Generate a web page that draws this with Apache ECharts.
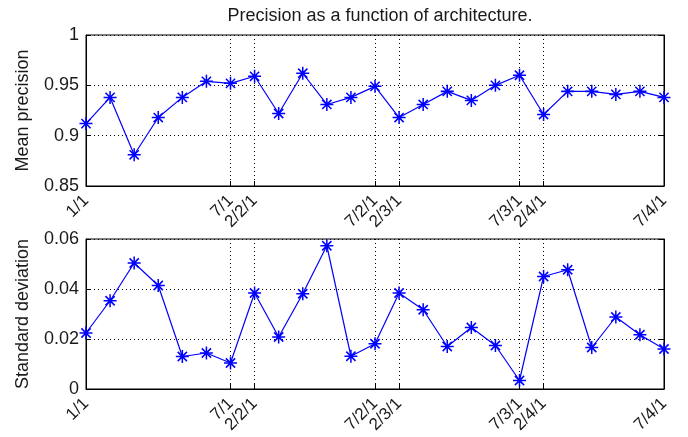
<!DOCTYPE html>
<html>
<head>
<meta charset="utf-8">
<script src="https://cdn.jsdelivr.net/npm/echarts@6/dist/echarts.min.js"></script>
<style>
html,body{margin:0;padding:0;background:#fff;}
#chart{width:688px;height:437px;}
</style>
</head>
<body>
<div id="chart"></div>
<script>
// Data
const archIndex = ['1','2','3','4','5','6','7','8','9','10','11','12','13','14','15','16','17','18','19','20','21','22','23','24','25'];
const meanPrecision = [0.912, 0.938, 0.881, 0.918, 0.938, 0.954, 0.952, 0.959, 0.922, 0.962, 0.931, 0.938, 0.949, 0.918, 0.931, 0.944, 0.935, 0.950, 0.960, 0.921, 0.944, 0.944, 0.941, 0.944, 0.938];
const stdDeviation = [0.0224, 0.0353, 0.0504, 0.0414, 0.0130, 0.0144, 0.0104, 0.0384, 0.0208, 0.0381, 0.0573, 0.0131, 0.0181, 0.0384, 0.0317, 0.0170, 0.0246, 0.0174, 0.0034, 0.0450, 0.0477, 0.0166, 0.0288, 0.0217, 0.0160];
const tickPositions = [0, 6, 7, 12, 13, 18, 19, 24];
const tickLabels = ['1/1', '7/1', '2/2/1', '7/2/1', '2/3/1', '7/3/1', '2/4/1', '7/4/1'];

const FONT = 'Liberation Sans, Arial, Helvetica, sans-serif';
const TXT = '#1a1a1a';
const isTick = (i) => tickPositions.indexOf(i) >= 0;
const asterisk = 'path://M10.6 0L13.4 0L13.4 24L10.6 24Z M0 10.6L24 10.6L24 13.4L0 13.4Z M4.5 2.5L21.5 19.5L19.5 21.5L2.5 4.5Z M19.5 2.5L21.5 4.5L4.5 21.5L2.5 19.5Z';

function xAxisFor(gridIndex) {
  return {
    type: 'category', gridIndex, data: archIndex, boundaryGap: false,
    axisLine: {show: true, lineStyle: {color: '#000', width: 1}},
    axisTick: {show: true, inside: true, length: 5, interval: (i) => isTick(i), lineStyle: {color: '#000'}},
    axisLabel: {
      show: true, interval: (i) => isTick(i), rotate: 45, margin: 12,
      formatter: (v, i) => tickLabels[tickPositions.indexOf(i)] || '',
      fontFamily: FONT, fontSize: 17, color: TXT, hideOverlap: false
    },
    splitLine: {show: true, interval: (i) => isTick(i), lineStyle: {color: '#000', type: [1, 3], width: 1}}
  };
}
function yAxisFor(gridIndex, min, max, interval, name) {
  return {
    type: 'value', gridIndex, min, max, interval, name,
    nameLocation: 'middle', nameGap: 54, nameRotate: 90,
    nameTextStyle: {fontFamily: FONT, fontSize: 18, color: TXT},
    axisLine: {show: true, lineStyle: {color: '#000'}},
    axisTick: {show: true, inside: true, length: 5, lineStyle: {color: '#000'}},
    axisLabel: {fontFamily: FONT, fontSize: 18, color: TXT, margin: 7},
    splitLine: {show: true, lineStyle: {color: '#000', type: [1, 3], width: 1}}
  };
}
function yRight(gridIndex, min, max, interval) {
  return {
    type: 'value', gridIndex, min, max, interval, position: 'right',
    axisLine: {show: true, lineStyle: {color: '#000'}},
    axisTick: {show: true, inside: true, length: 5, lineStyle: {color: '#000'}},
    axisLabel: {show: false}, splitLine: {show: false}
  };
}
function lineSeries(xi, yi, data) {
  return {
    type: 'line', xAxisIndex: xi, yAxisIndex: yi, data,
    symbol: asterisk, symbolSize: 13, showSymbol: true,
    lineStyle: {color: '#0000ff', width: 1.2},
    itemStyle: {color: '#0000ff'},
    animation: false, silent: true
  };
}

const chart = echarts.init(document.getElementById('chart'), null, {renderer: 'canvas'});
chart.setOption({
  backgroundColor: '#fff',
  animation: false,
  title: {
    text: 'Precision as a function of architecture.', left: 375, textAlign: 'center', top: 2,
    textStyle: {fontFamily: FONT, fontSize: 18, fontWeight: 'normal', color: TXT}
  },
  grid: [
    {left: 86, top: 35, width: 578, height: 151, show: true, borderColor: '#000', borderWidth: 1, backgroundColor: '#fff'},
    {left: 86, top: 239, width: 578, height: 150, show: true, borderColor: '#000', borderWidth: 1, backgroundColor: '#fff'}
  ],
  xAxis: [xAxisFor(0), xAxisFor(1)],
  yAxis: [
    yAxisFor(0, 0.85, 1, 0.05, 'Mean precision'),
    yAxisFor(1, 0, 0.06, 0.02, 'Standard deviation'),
    yRight(0, 0.85, 1, 0.05),
    yRight(1, 0, 0.06, 0.02)
  ],
  series: [
    lineSeries(0, 0, meanPrecision),
    lineSeries(1, 1, stdDeviation)
  ]
});
</script>
</body>
</html>
